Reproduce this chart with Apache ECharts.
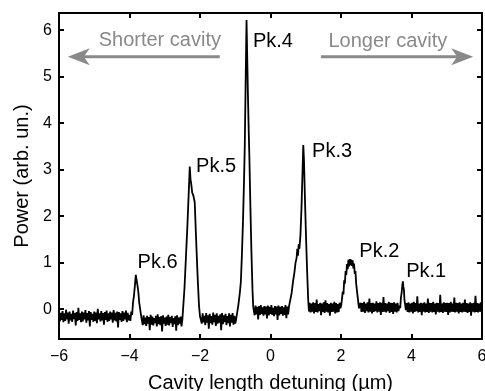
<!DOCTYPE html>
<html>
<head>
<meta charset="utf-8">
<script src="https://cdn.jsdelivr.net/npm/echarts@6/dist/echarts.min.js"></script>
<style>
html,body{margin:0;padding:0;background:#fff;}
#c{width:485px;height:391px;}
</style>
</head>
<body>
<div id="c"></div>
<script>
// ---- data ----
const xBaseA = [
-6.000,-5.975,-5.950,-5.925,-5.900,-5.875,-5.850,-5.825,-5.800,-5.775,
-5.750,-5.725,-5.700,-5.675,-5.650,-5.625,-5.600,-5.575,-5.550,-5.525,
-5.500,-5.475,-5.450,-5.425,-5.400,-5.375,-5.350,-5.325,-5.300,-5.275,
-5.250,-5.225,-5.200,-5.175,-5.150,-5.125,-5.100,-5.075,-5.050,-5.025,
-5.000,-4.975,-4.950,-4.925,-4.900,-4.875,-4.850,-4.825,-4.800,-4.775,
-4.750,-4.725,-4.700,-4.675,-4.650,-4.625,-4.600,-4.575,-4.550,-4.525,
-4.500,-4.475,-4.450,-4.425,-4.400,-4.375,-4.350,-4.325,-4.300,-4.275,
-4.250,-4.225,-4.200,-4.175,-4.150,-4.125,-4.100,-4.075,-4.050,-4.025,
-4.000];
const yBaseA = [
-0.06,-0.26,-0.08,-0.23,-0.04,-0.28,-0.09,-0.25,-0.01,-0.22,
-0.07,-0.31,-0.05,-0.24,-0.10,-0.27,-0.03,-0.21,-0.08,-0.35,
-0.06,-0.25,0.03,-0.23,-0.09,-0.28,-0.05,-0.26,-0.07,-0.22,
-0.02,-0.29,-0.08,-0.24,-0.04,-0.37,-0.06,-0.23,-0.10,-0.27,
-0.05,-0.25,-0.07,-0.30,0.01,-0.22,-0.09,-0.26,-0.04,-0.24,
-0.08,-0.33,-0.06,-0.23,-0.03,-0.27,-0.09,-0.25,-0.05,-0.22,
-0.07,-0.29,-0.02,-0.24,-0.08,-0.26,-0.05,-0.39,-0.06,-0.23,
-0.09,-0.27,-0.04,-0.25,-0.07,-0.22,-0.03,-0.28,-0.08,-0.24,
-0.12];
const xPk6 = [-3.975,-3.950,-3.925,-3.900,-3.875,-3.850,-3.835,-3.820,-3.805,-3.790,-3.775,-3.750,-3.725,-3.700,-3.675];
const yPk6 = [-0.25,-0.05,-0.12,0.15,0.28,0.48,0.62,0.74,0.66,0.70,0.52,0.38,0.15,0.02,-0.12];
const xBaseB = [
-3.650,-3.625,-3.600,-3.575,-3.550,-3.525,-3.500,-3.475,-3.450,-3.425,
-3.400,-3.375,-3.350,-3.325,-3.300,-3.275,-3.250,-3.225,-3.200,-3.175,
-3.150,-3.125,-3.100,-3.075,-3.050,-3.025,-3.000,-2.975,-2.950,-2.925,
-2.900,-2.875,-2.850,-2.825,-2.800,-2.775,-2.750,-2.725,-2.700,-2.675,
-2.650,-2.625,-2.600,-2.575,-2.550,-2.525,-2.500];
const yBaseB = [
-0.15,-0.34,-0.13,-0.32,-0.18,-0.36,-0.14,-0.31,-0.17,-0.45,
-0.12,-0.33,-0.16,-0.35,-0.19,-0.30,-0.14,-0.37,-0.11,-0.32,
-0.17,-0.34,-0.15,-0.48,-0.13,-0.31,-0.18,-0.36,-0.16,-0.33,
-0.12,-0.35,-0.17,-0.30,-0.14,-0.38,-0.19,-0.32,-0.15,-0.46,
-0.13,-0.34,-0.18,-0.31,-0.16,-0.37,-0.22];
const xPk5 = [-2.47,-2.44,-2.40,-2.36,-2.32,-2.29,-2.27,-2.25,-2.22,-2.19,-2.15,-2.11,-2.07,-2.03,-2.00];
const yPk5 = [-0.20,0.45,1.10,1.75,2.50,3.07,2.80,2.70,2.50,2.45,2.30,1.50,0.75,0.10,-0.15];
const xBaseC = [
-1.975,-1.950,-1.925,-1.900,-1.875,-1.850,-1.825,-1.800,-1.775,-1.750,
-1.725,-1.700,-1.675,-1.650,-1.625,-1.600,-1.575,-1.550,-1.525,-1.500,
-1.475,-1.450,-1.425,-1.400,-1.375,-1.350,-1.325,-1.300,-1.275,-1.250,
-1.225,-1.200,-1.175,-1.150,-1.125,-1.100,-1.075,-1.050,-1.025,-1.000,
-0.975];
const yBaseC = [
-0.11,-0.31,-0.09,-0.28,-0.14,-0.34,-0.08,-0.29,-0.13,-0.42,
-0.10,-0.30,-0.15,-0.33,-0.07,-0.28,-0.12,-0.36,-0.09,-0.31,
-0.14,-0.29,-0.11,-0.45,-0.08,-0.32,-0.13,-0.28,-0.10,-0.34,
-0.15,-0.30,-0.09,-0.37,-0.12,-0.29,-0.08,-0.33,-0.14,-0.31,
-0.22];
const xPk4 = [-0.94,-0.91,-0.87,-0.84,-0.81,-0.78,-0.75,-0.73,-0.71,-0.69,-0.68,-0.66,-0.64,-0.62,-0.60,-0.57,-0.54,-0.51,-0.49];
const yPk4 = [-0.20,0.10,0.35,0.60,1.20,1.90,2.80,3.50,4.60,5.70,6.22,5.40,4.60,3.90,3.30,2.20,1.20,0.40,0.05];
const xBaseD = [
-0.475,-0.450,-0.425,-0.400,-0.375,-0.350,-0.325,-0.300,-0.275,-0.250,
-0.225,-0.200,-0.175,-0.150,-0.125,-0.100,-0.075,-0.050,-0.025,0.000,
0.025,0.050,0.075,0.100,0.125,0.150,0.175,0.200,0.225,0.250,
0.275,0.300,0.325,0.350,0.375,0.400,0.425,0.450,0.475,0.500,
0.525];
const yBaseD = [
0.06,-0.13,0.08,-0.11,0.05,-0.22,0.07,-0.12,0.09,-0.10,
0.04,-0.14,0.07,-0.11,0.06,-0.20,0.08,-0.13,0.05,-0.10,
0.09,-0.12,0.03,-0.15,0.07,-0.11,0.06,-0.23,0.08,-0.13,
0.05,-0.10,0.07,-0.14,0.04,-0.12,0.09,-0.19,0.06,-0.11,
0.06];
const xPk3 = [0.56,0.60,0.64,0.68,0.71,0.74,0.76,0.78,0.80,0.82,0.85,0.88,0.91,0.93,0.95,0.98,1.01,1.04,1.07,1.09];
const yPk3 = [0.05,0.35,0.60,0.80,1.00,1.10,1.30,1.15,1.40,1.30,1.60,2.20,3.00,3.53,3.20,2.30,1.50,0.80,0.20,-0.05];
const xBaseE = [
1.110,1.135,1.160,1.185,1.210,1.235,1.260,1.285,1.310,1.335,
1.360,1.385,1.410,1.435,1.460,1.485,1.510,1.535,1.560,1.585,
1.610,1.635,1.660,1.685,1.710,1.735,1.760,1.785,1.810,1.835,
1.860,1.885,1.910,1.935,1.960,1.985];
const yBaseE = [
0.14,-0.07,0.12,-0.05,0.15,-0.09,0.13,-0.06,0.21,-0.07,
0.11,-0.04,0.14,-0.13,0.12,-0.06,0.15,-0.08,0.19,-0.05,
0.13,-0.07,0.11,-0.14,0.14,-0.06,0.12,-0.05,0.16,-0.09,
0.13,-0.07,0.11,-0.06,0.14,0.02];
const xPk2 = [2.01,2.03,2.05,2.07,2.09,2.11,2.13,2.15,2.17,2.19,2.21,2.23,2.25,2.27,2.29,2.31,2.33,2.35,2.37,2.39,2.41,2.43,2.45,2.47,2.49,2.51,2.53];
const yPk2 = [0.10,0.12,0.38,0.32,0.62,0.55,0.82,0.74,0.97,0.86,1.06,0.92,1.08,0.95,1.07,0.93,1.05,0.88,0.98,0.76,0.82,0.55,0.58,0.28,0.26,0.02,0.05];
const xBaseF = [
2.555,2.580,2.605,2.630,2.655,2.680,2.705,2.730,2.755,2.780,
2.805,2.830,2.855,2.880,2.905,2.930,2.955,2.980,3.005,3.030,
3.055,3.080,3.105,3.130,3.155,3.180,3.205,3.230,3.255,3.280,
3.305,3.330,3.355,3.380,3.405,3.430,3.455,3.480,3.505,3.530,
3.555,3.580,3.605,3.630,3.655];
const yBaseF = [
0.14,-0.06,0.13,-0.05,0.16,-0.08,0.12,-0.04,0.15,-0.07,
0.23,-0.05,0.13,-0.09,0.14,-0.06,0.12,-0.04,0.17,-0.07,
0.13,-0.05,0.15,-0.12,0.14,-0.06,0.26,-0.05,0.13,-0.07,
0.12,-0.04,0.16,-0.08,0.14,-0.06,0.13,-0.10,0.15,-0.05,
0.12,-0.07,0.14,-0.04,0.08];
const xPk1 = [3.680,3.700,3.720,3.740,3.755,3.770,3.785,3.800,3.820,3.840];
const yPk1 = [0.02,0.25,0.35,0.52,0.60,0.48,0.42,0.20,0.10,-0.02];
const xBaseG = [
3.865,3.890,3.915,3.940,3.965,3.990,4.015,4.040,4.065,4.090,
4.115,4.140,4.165,4.190,4.215,4.240,4.265,4.290,4.315,4.340,
4.365,4.390,4.415,4.440,4.465,4.490,4.515,4.540,4.565,4.590,
4.615,4.640,4.665,4.690,4.715,4.740,4.765,4.790,4.815,4.840,
4.865,4.890,4.915,4.940,4.965,4.990,5.015,5.040,5.065,5.090,
5.115,5.140,5.165,5.190,5.215,5.240,5.265,5.290,5.315,5.340,
5.365,5.390,5.415,5.440,5.465,5.490,5.515,5.540,5.565,5.590,
5.615,5.640,5.665,5.690,5.715,5.740,5.765,5.790,5.815,5.840,
5.865,5.890,5.915,5.940,5.965,5.990,6.000];
const yBaseG = [
0.13,-0.06,0.15,-0.07,0.12,-0.05,0.14,-0.09,0.16,-0.06,
0.13,-0.04,0.28,-0.07,0.12,-0.06,0.14,-0.13,0.13,-0.05,
0.15,-0.07,0.12,-0.06,0.23,-0.08,0.14,-0.05,0.13,-0.07,
0.16,-0.06,0.12,-0.11,0.14,-0.05,0.13,-0.07,0.31,-0.06,
0.12,-0.08,0.15,-0.05,0.13,-0.06,0.14,-0.12,0.13,-0.07,
0.16,-0.05,0.12,-0.06,0.25,-0.07,0.14,-0.05,0.13,-0.09,
0.15,-0.06,0.12,-0.07,0.14,-0.05,0.21,-0.06,0.13,-0.08,
0.12,-0.06,0.15,-0.14,0.13,-0.05,0.14,-0.07,0.29,-0.06,
0.13,-0.07,0.12,-0.05,0.15,-0.06,0.06];

const xTicks = [-6,-4,-2,0,2,4,6];
const yTicks = [0,1,2,3,4,5,6];

const peakNames  = ['Pk.6','Pk.5','Pk.4','Pk.3','Pk.2','Pk.1'];
const peakLabelX = [-3.77,-2.11,-0.50,1.18,2.52,3.85];
const peakLabelY = [1.00,3.07,5.75,3.39,1.24,0.81];

const arrowTexts = ['Shorter cavity','Longer cavity'];
const arrowTextPos = [[-3.14,5.78],[3.33,5.76]];
const arrowTail = [[-1.44,5.43],[1.43,5.43]];
const arrowTip  = [[-5.75,5.43],[5.75,5.43]];

// ---- build ----
const detuning = [].concat(xBaseA,xPk6,xBaseB,xPk5,xBaseC,xPk4,xBaseD,xPk3,xBaseE,xPk2,xBaseF,xPk1,xBaseG);
const power    = [].concat(yBaseA,yPk6,yBaseB,yPk5,yBaseC,yPk4,yBaseD,yPk3,yBaseE,yPk2,yBaseF,yPk1,yBaseG);
const seriesData = detuning.map((x,i)=>[x, power[i]]);

const FONT = '"Liberation Sans", Arial, Helvetica, sans-serif';
const minusFmt = v => String(v).replace('-', '\u2212');

const axisLineStyle = {color:'#000', width:2};
const chart = echarts.init(document.getElementById('c'), null, {renderer:'canvas'});
const option = {
  animation:false,
  backgroundColor:'#fff',
  grid:{left:59, right:3, top:13, bottom:52, containLabel:false, outerBoundsMode:'none'},
  xAxis:[{
    type:'value', min:xTicks[0], max:xTicks[xTicks.length-1], interval:2, position:'bottom',
    axisLine:{show:true, onZero:false, lineStyle:axisLineStyle},
    axisTick:{show:true, inside:true, length:5, lineStyle:axisLineStyle},
    axisLabel:{margin:10, color:'#000', fontSize:16, fontFamily:FONT, formatter:minusFmt},
    splitLine:{show:false},
    name:'Cavity length detuning (\u00b5m)', nameLocation:'middle', nameGap:34,
    nameTextStyle:{color:'#000', fontSize:20, fontFamily:FONT}
  },{
    type:'value', min:xTicks[0], max:xTicks[xTicks.length-1], interval:2, position:'top',
    axisLine:{show:true, onZero:false, lineStyle:axisLineStyle},
    axisTick:{show:true, inside:true, length:5, lineStyle:axisLineStyle},
    axisLabel:{show:false}, splitLine:{show:false}
  }],
  yAxis:[{
    type:'value', min:-0.64, max:6.37, position:'left',
    axisLine:{show:true, onZero:false, lineStyle:axisLineStyle},
    axisTick:{show:true, inside:true, length:5, lineStyle:axisLineStyle, customValues:yTicks},
    axisLabel:{margin:7, color:'#000', fontSize:16, fontFamily:FONT, customValues:yTicks, formatter:minusFmt},
    splitLine:{show:false},
    name:'Power (arb. un.)', nameLocation:'middle', nameGap:25, nameRotate:90,
    nameTextStyle:{color:'#000', fontSize:20, fontFamily:FONT}
  },{
    type:'value', min:-0.64, max:6.37, position:'right',
    axisLine:{show:true, onZero:false, lineStyle:axisLineStyle},
    axisTick:{show:true, inside:true, length:5, lineStyle:axisLineStyle, customValues:yTicks},
    axisLabel:{show:false}, splitLine:{show:false}
  }],
  series:[{
    type:'line', xAxisIndex:0, yAxisIndex:0, data:seriesData,
    showSymbol:false, symbol:'none', sampling:null,
    lineStyle:{color:'#000', width:1.8}, clip:true
  }]
};
chart.setOption(option);

// ---- annotations placed through the chart's own coordinate system ----
const gfx = [];
const toPx = p => chart.convertToPixel({xAxisIndex:0, yAxisIndex:0}, p);
peakNames.forEach((n,i)=>{
  const p = toPx([peakLabelX[i], peakLabelY[i]]);
  gfx.push({type:'text', x:p[0], y:p[1], z:10, style:{text:n, font:'20px '+FONT, fill:'#000',
    align:'left', verticalAlign:'middle', textAlign:'left', textVerticalAlign:'middle'}});
});
const GRAY = '#898989';
arrowTexts.forEach((t,i)=>{
  const p = toPx(arrowTextPos[i]);
  gfx.push({type:'text', x:p[0], y:p[1], z:10, style:{text:t, font:'20px '+FONT, fill:GRAY,
    align:'center', verticalAlign:'middle', textAlign:'center', textVerticalAlign:'middle'}});
  const a = toPx(arrowTail[i]), b = toPx(arrowTip[i]);
  const dir = Math.sign(b[0]-a[0]);
  const headLen = 22, half = 8.5, notch = 6;
  gfx.push({type:'line', z:10, shape:{x1:a[0], y1:a[1], x2:b[0]-dir*(headLen-notch), y2:b[1]},
    style:{stroke:GRAY, lineWidth:3}});
  gfx.push({type:'polygon', z:10, shape:{points:[
    [b[0], b[1]],
    [b[0]-dir*headLen, b[1]-half],
    [b[0]-dir*(headLen-notch), b[1]],
    [b[0]-dir*headLen, b[1]+half]
  ]}, style:{fill:GRAY}});
});
chart.setOption({graphic:gfx});
</script>
</body>
</html>
